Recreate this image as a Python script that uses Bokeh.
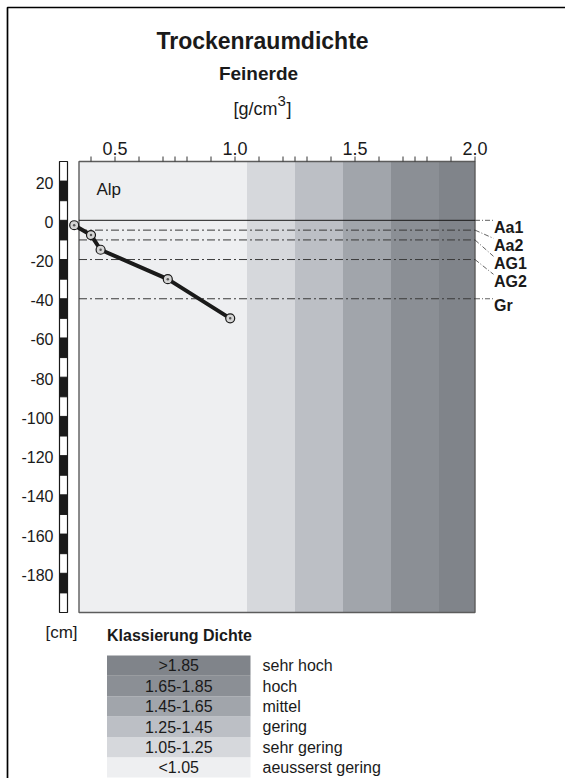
from bokeh.plotting import figure
from bokeh.models import Range1d
from bokeh.embed import file_html
from bokeh.resources import INLINE
from bokeh.core.properties import value

FONT = "Liberation Sans"
INK = "#1a1a1a"

# --- data -------------------------------------------------------------------
# soil horizons (upper boundary, cm) and measured dry bulk density of the fine earth
horizons = ["Aa1", "Aa2", "AG1", "AG2", "Gr"]
horizon_top = [0, -5, -10, -20, -40]
sample_depth = [-2.5, -7.5, -15, -30, -50]
density = [0.33, 0.40, 0.44, 0.72, 0.98]

# density classes [g/cm3], darkest = densest
class_lower = [0.35, 1.05, 1.25, 1.45, 1.65, 1.85]
class_upper = [1.05, 1.25, 1.45, 1.65, 1.85, 2.0]
class_colors = ["#eeeff1", "#d6d8dc", "#bcbfc5", "#a1a5ab", "#8b8f95", "#80848a"]
class_ranges = ["<1.05", "1.05-1.25", "1.25-1.45", "1.45-1.65", "1.65-1.85", ">1.85"]
class_names = ["aeusserst gering", "sehr gering", "gering", "mittel", "hoch", "sehr hoch"]

x_major = [0.5, 1.0, 1.5, 2.0]
x_minor = [0.4, 0.6, 0.7, 0.75, 0.8, 0.9, 1.1, 1.2, 1.25, 1.3, 1.4,
           1.6, 1.7, 1.75, 1.8, 1.9]
depth_ticks = [20, 0, -20, -40, -60, -80, -100, -120, -140, -160, -180]
depth_top, depth_bottom = 30, -200
site = "Alp"

# --- page geometry (pixels) -----------------------------------------------------
W, H = 565, 778
PL, PR, PT, PB = 78.5, 474.5, 161, 612          # profile panel on the page
x_lo, x_hi = min(class_lower), max(class_upper)
PX_PER_X = (PR - PL) / (x_hi - x_lo)
PX_PER_Y = (PB - PT) / (depth_top - depth_bottom)

x_range = Range1d(x_lo - PL / PX_PER_X, x_lo + (W - PL) / PX_PER_X)
y_range = Range1d(depth_bottom - (H - PB) / PX_PER_Y, depth_top + PT / PX_PER_Y)

p = figure(width=W, height=H, x_range=x_range, y_range=y_range,
           x_axis_location=None, y_axis_location=None,
           output_backend="svg", toolbar_location=None,
           min_border=0, min_border_left=0, min_border_right=0,
           min_border_top=0, min_border_bottom=0)
p.grid.visible = False
p.outline_line_color = None
p.background_fill_color = "white"
p.border_fill_color = "white"
# page coordinates for titles and the class key (y grows downward)
p.extra_x_ranges = {"page": Range1d(0, W)}
p.extra_y_ranges = {"page": Range1d(H, 0)}
PAGE = dict(x_range_name="page", y_range_name="page")


def page_text(x, y, text, size, bold=False, align="left", baseline="middle"):
    p.text(x=[x], y=[y], text=[text], text_font=value(FONT), text_font_size=size,
           text_font_style="bold" if bold else "normal", text_align=align,
           text_baseline=baseline, text_color=INK, **PAGE)


# page frame (top and left edge)
p.line(x=[7, 7, W + 10], y=[H + 10, 7, 7], line_color="black", line_width=1.7, **PAGE)

# titles
page_text(262, 40, "Trockenraumdichte", "23px", bold=True, align="center")
page_text(258, 73, "Feinerde", "19px", bold=True, align="center")
page_text(277, 108, "[g/cm", "18px", align="right")
page_text(277, 100, "3", "15px")
page_text(286, 108, "]", "18px")

# density class bands and panel border
p.quad(left=class_lower, right=class_upper, top=depth_top, bottom=depth_bottom,
       fill_color=class_colors, line_color=None)
p.quad(left=x_lo, right=x_hi, top=depth_top, bottom=depth_bottom,
       fill_color=None, line_color="#5c5c5c", line_width=1.4)

# density axis (top): ticks and labels
tick_len = 5 / PX_PER_Y
p.segment(x0=x_major + x_minor, x1=x_major + x_minor,
          y0=[depth_top] * (len(x_major) + len(x_minor)),
          y1=[depth_top + tick_len] * (len(x_major) + len(x_minor)),
          line_color="#333333", line_width=1)
p.text(x=x_major, y=[depth_top] * len(x_major), text=[f"{v:.1f}" for v in x_major],
       y_offset=-13, text_font=value(FONT), text_font_size="18px",
       text_align="center", text_baseline="alphabetic", text_color=INK)

# depth axis (left): labels and black/white scale bar
p.text(x=[x_lo] * len(depth_ticks), y=depth_ticks, text=[str(t) for t in depth_ticks],
       x_offset=-25.5, y_offset=1.5, text_font=value(FONT), text_font_size="16px",
       text_align="right", text_baseline="middle", text_color=INK)
bar_l, bar_r = x_lo - 19.5 / PX_PER_X, x_lo - 11.5 / PX_PER_X
p.quad(left=bar_l, right=bar_r, top=depth_top, bottom=depth_bottom,
       fill_color="white", line_color=INK, line_width=1.2)
p.quad(left=bar_l, right=bar_r, top=depth_ticks, bottom=[t - 10 for t in depth_ticks],
       fill_color=INK, line_color=INK, line_width=1)
page_text(61, 632, "[cm]", "17px", align="center")

# horizon boundaries
p.segment(x0=[x_lo], x1=[x_hi], y0=horizon_top[:1], y1=horizon_top[:1],
          line_color=INK, line_width=1)
n_low = len(horizon_top) - 1
p.segment(x0=[x_lo] * n_low, x1=[x_hi] * n_low, y0=horizon_top[1:], y1=horizon_top[1:],
          line_color="#3a3a3a", line_width=1, line_dash="8 3 2 3")

# horizon names, stacked so they do not overlap, with leader lines
lab_gap = 7 / PX_PER_Y
lab_step = 18 / PX_PER_Y
lab_y = []
for t in horizon_top:
    y = t - lab_gap
    if lab_y:
        y = min(y, lab_y[-1] - lab_step)
    lab_y.append(y)
lead_end = [y + lab_gap for y in lab_y]
lead_x = x_hi + 18.5 / PX_PER_X
p.segment(x0=[x_hi] * len(horizons), x1=[lead_x] * len(horizons),
          y0=horizon_top, y1=lead_end,
          line_color="#3a3a3a", line_width=0.8, line_dash="5 2 1 2")
p.text(x=[lead_x] * len(horizons), y=lab_y, text=horizons, x_offset=0.5,
       text_font=value(FONT), text_font_size="16px", text_font_style="bold",
       text_align="left", text_baseline="middle", text_color=INK)

# density profile
p.line(density, sample_depth, line_color=INK, line_width=4)
p.scatter(density, sample_depth, marker="circle", size=9, fill_color="#d4d4d4",
          line_color=INK, line_width=1.2)
p.scatter(density, sample_depth, marker="circle", size=2.5, fill_color="#555555",
          line_color=None)

# site name
p.text(x=[x_lo], y=[depth_top], text=[site], x_offset=17.5, y_offset=27.8,
       text_font=value(FONT), text_font_size="17px", text_baseline="alphabetic",
       text_color=INK)

# class key
page_text(106.5, 635, "Klassierung Dichte", "16px", bold=True)
KEY_L, KEY_R, KEY_T, ROW_H = 106.5, 250, 655, 20.35
n = len(class_ranges)
rows = list(range(n))[::-1]                      # densest class on top
tops = [KEY_T + r * ROW_H for r in rows]
p.quad(left=KEY_L, right=KEY_R, top=tops, bottom=[t + ROW_H for t in tops],
       fill_color=class_colors, line_color=None, **PAGE)
mids = [t + ROW_H / 2 for t in tops]
p.text(x=[(KEY_L + KEY_R) / 2] * n, y=mids, text=class_ranges,
       text_font=value(FONT), text_font_size="16px", text_align="center",
       text_baseline="middle", text_color=INK, **PAGE)
p.text(x=[KEY_R + 12] * n, y=mids, text=class_names,
       text_font=value(FONT), text_font_size="16px", text_align="left",
       text_baseline="middle", text_color=INK, **PAGE)

open("out.html", "w").write(file_html(p, INLINE))
